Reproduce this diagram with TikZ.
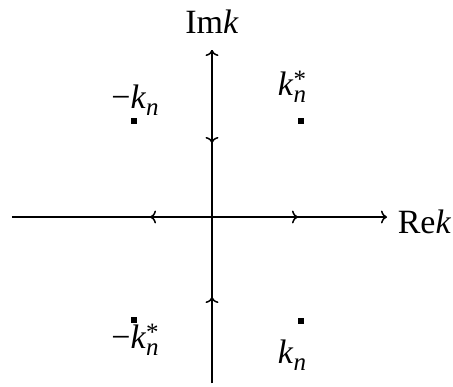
\documentclass[tikz,border=0pt]{standalone}
\usepackage{fontspec}
\setmainfont{Liberation Serif}
\usetikzlibrary{arrows.meta}
\newcommand\smallfnt{\fontsize{12.5}{12.5}\selectfont}
\newcommand\kroot[1]{\textit{k}\rlap{\raisebox{4pt}{\smallfnt #1}}%
  \raisebox{-3.5pt}{\smallfnt\textit{n}}}

\begin{document}
\begin{tikzpicture}[x=0.5pt,y=0.5pt,>={To[length=3pt,width=6.5pt]},
    line width=0.75pt,font=\fontsize{17}{19}\selectfont]
  \tikzset{pole/.style={rectangle,fill,inner sep=0pt,minimum size=2.6pt}}
  \useasboundingbox (-212,-169) rectangle (241,217);
  % axes
  \coordinate (O) at (0,0);
  \coordinate (west) at (-200,0);
  \coordinate (east) at (175,0);
  \coordinate (south) at (0,-166);
  \coordinate (north) at (0,167);
  \draw[->] (west) -- (east);
  \draw[->] (south) -- (north);
  \node[anchor=base west,inner sep=0pt] (re) at (185,-16) {Re\textit{k}};
  \node[anchor=base] (im) at (0,184) {Im\textit{k}};
  % direction marks
  \draw[->] (O) -- (-62,0);
  \draw[->] (O) -- (86,0);
  \draw[->] (north) -- (0,74);
  \draw[->] (south) -- (0,-80);
  % poles
  \node[pole] (p1) at (-78,96) {};
  \node[pole] (p2) at (89,96) {};
  \node[pole] (p3) at (-78,-103) {};
  \node[pole] (p4) at (89,-104) {};
  \node[anchor=base] (l1) at (-77,109) {−\kroot{}};
  \node[anchor=base] (l2) at (80,122) {\kroot{*}};
  \node[anchor=base] (l3) at (-77,-131) {−\kroot{*}};
  \node[anchor=base] (l4) at (80,-146) {\kroot{}};
\end{tikzpicture}
\end{document}
